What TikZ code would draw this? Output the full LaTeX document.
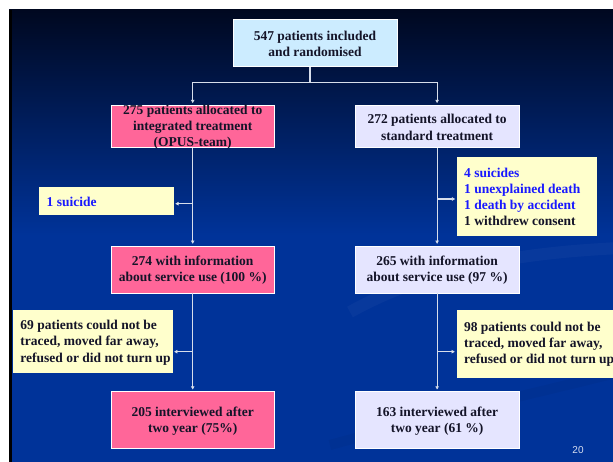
\documentclass[tikz,border=0pt]{standalone}
\usepackage{fontspec}
\setmainfont{Liberation Serif}
\newfontfamily\pgnumfont{Liberation Sans}
\usetikzlibrary{arrows.meta,calc}
\definecolor{topfill}{RGB}{204,236,255}
\definecolor{pinkfill}{RGB}{255,102,153}
\definecolor{lavfill}{RGB}{229,229,255}
\definecolor{yelfill}{RGB}{255,255,204}
\definecolor{txtdark}{RGB}{20,20,40}
\definecolor{txtblue}{RGB}{25,25,255}
\definecolor{linecol}{RGB}{215,222,235}
\definecolor{bgblue}{RGB}{0,51,153}
\definecolor{bgdark}{RGB}{0,8,32}
\definecolor{pgcol}{RGB}{215,222,240}
\begin{document}
\begin{tikzpicture}[x=1pt,y=-1pt,
  boxbase/.style={draw=white, line width=0.9pt, inner sep=0pt},
  topbox/.style={boxbase, fill=topfill},
  pinkbox/.style={boxbase, fill=pinkfill},
  lavbox/.style={boxbase, fill=lavfill},
  yelbox/.style={boxbase, draw=yelfill, fill=yelfill},
  txt/.style={font=\bfseries\fontsize{13.5}{16.2}\selectfont, align=center, text=txtdark, inner sep=0pt},
  txtl/.style={txt, align=left, anchor=west},
  conn/.style={draw=linecol, line width=1.1pt},
  arr/.style={conn, -{Latex[length=3.5pt,width=4pt]}, shorten >=1.5pt},
]
% background
\useasboundingbox (0,0) rectangle (613,462);
\fill[white] (0,0) rectangle (613,462);
\fill[bgblue] (9,10) rectangle (613,462);
\shade[top color=bgdark, bottom color=bgblue] (9,10) rectangle (613,235);
\draw[white, opacity=0.03, line width=12pt] (350,312) .. controls (440,262) and (540,252) .. (620,248);
\draw[black, opacity=0.04, line width=10pt] (330,445) .. controls (450,412) and (540,392) .. (620,372);
\fill[black] (9,10) rectangle (12,462);

% boxes
\node[topbox, minimum width=164pt, minimum height=47pt] (top) at (315,42.7) {};
\node[pinkbox, minimum width=163.4pt, minimum height=42.4pt] (l1) at (192.7,126.5) {};
\node[lavbox, minimum width=164.2pt, minimum height=42.4pt] (r1) at (437.1,126.5) {};
\node[yelbox, minimum width=134pt, minimum height=26.6pt] (s1) at (106.1,201) {};
\node[yelbox, minimum width=138.8pt, minimum height=78pt] (d1) at (526.8,196) {};
\node[pinkbox, minimum width=163.4pt, minimum height=47pt] (l2) at (192.7,269.5) {};
\node[lavbox, minimum width=164.2pt, minimum height=47pt] (r2) at (437.1,269.5) {};
\node[yelbox, minimum width=158.3pt, minimum height=62.3pt] (y2l) at (92.8,341.2) {};
\node[yelbox, minimum width=173pt, minimum height=67pt] (y2r) at (543.5,343.5) {};
\node[pinkbox, minimum width=163.4pt, minimum height=57pt] (l3) at (192.7,420.2) {};
\node[lavbox, minimum width=164.2pt, minimum height=57pt] (r3) at (437.1,420.2) {};

% connector end points
\coordinate (split) at (310,82.3);
\coordinate (s1a) at ([yshift=-2.7pt]s1.east);
\coordinate (d1a) at ([yshift=-3pt]d1.west);
\coordinate (y2la) at ([yshift=-10.5pt]y2l.east);
\coordinate (y2ra) at ([yshift=-8.2pt]y2r.west);

% connectors
\draw[conn] (split |- top.south) -- (split);
\draw[arr] (split) -| (l1.north);
\draw[arr] (split) -| (r1.north);
\draw[arr] (l1.south) -- (l2.north);
\draw[arr] (r1.south) -- (r2.north);
\draw[arr] (l2.south) -- (l3.north);
\draw[arr] (r2.south) -- (r3.north);
\draw[arr] (l1.south |- s1a) -- (s1a);
\draw[arr] (r1.south |- d1a) -- (d1a);
\draw[arr] (l2.south |- y2la) -- (y2la);
\draw[arr] (r2.south |- y2ra) -- (y2ra);

% texts
\node[txt] (topt) at ($(top.center)+(0,0.8)$) {547 patients included\\and randomised};
\node[txt] (l1t) at ($(l1.center)+(0,0.8)$) {275 patients allocated to\\integrated treatment\\(OPUS-team)};
\node[txt] (r1t) at ($(r1.center)+(0,0.8)$) {272 patients allocated to\\standard treatment};
\node[txtl, text=txtblue] (s1t) at ($(s1.west)+(7.8,0.5)$) {1 suicide};
\node[txtl] (d1t) at ($(d1.west)+(7,0.8)$) {\textcolor{txtblue}{4 suicides}\\\textcolor{txtblue}{1 unexplained death}\\\textcolor{txtblue}{1 death by accident}\\1 withdrew consent};
\node[txt] (l2t) at ($(l2.center)+(0,0.8)$) {274 with information\\about service use (100 \%)};
\node[txt] (r2t) at ($(r2.center)+(0,0.8)$) {265 with information\\about service use (97 \%)};
\node[txtl] (y2lt) at ($(y2l.west)+(7,1.5)$) {69 patients could not be\\traced, moved far away,\\refused or did not turn up};
\node[txtl] (y2rt) at ($(y2r.west)+(7.3,1)$) {98 patients could not be\\traced, moved far away,\\refused or did not turn up};
\node[txt] (l3t) at ($(l3.center)+(0,0.8)$) {205 interviewed after\\two year (75\%)};
\node[txt] (r3t) at ($(r3.center)+(0,0.8)$) {163 interviewed after\\two year (61 \%)};
\node[font=\pgnumfont\fontsize{10}{12}\selectfont, text=pgcol, inner sep=0pt] (pg) at (578,450.5) {20};
\end{tikzpicture}
\end{document}
